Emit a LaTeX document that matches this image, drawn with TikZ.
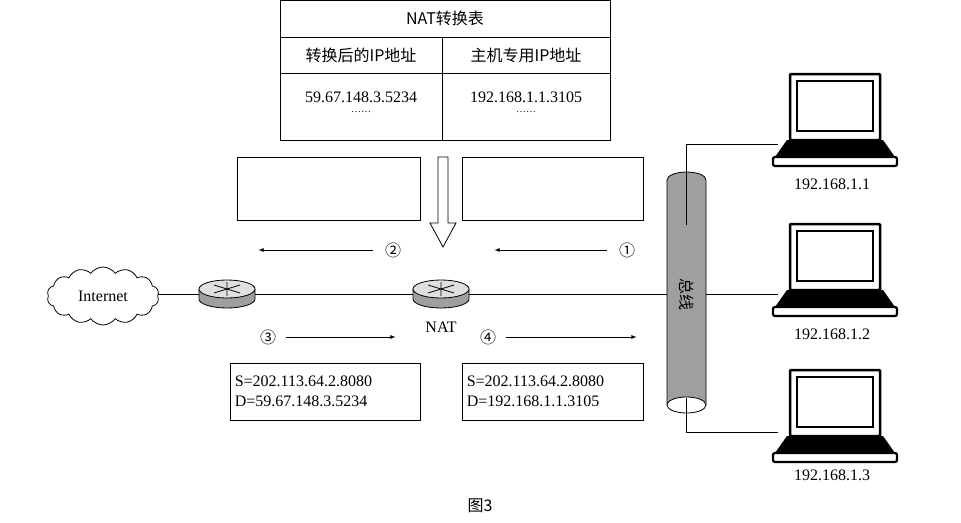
\documentclass[tikz,border=0pt]{standalone}
\usepackage{fontspec}
\setmainfont{Liberation Serif}
\newfontfamily\cjk{Noto Sans CJK SC}
\usetikzlibrary{shapes,arrows,positioning,calc}
\newcommand{\labelsize}{\fontsize{16}{20}\selectfont}
\tikzset{
  plain box/.style = {draw, thick, rectangle},
  flow/.style = {-latex, thick},
  num/.style = {font=\cjk\labelsize},
  addr/.style = {font=\labelsize, align=left, anchor=west, inner sep=5pt},
  lan/.style = {thick},
  laptop/.pic = {
    \draw[line width=2.5pt, fill=white, rounded corners=1pt] (-45,-66) rectangle (45,0);
    \draw[line width=1.5pt] (-38,-59) rectangle (38,-9);
    \fill (-48,0) -- (48,0) -- (60,17) -- (-60,17) -- cycle;
    \draw[line width=2.2pt, fill=white, rounded corners=2pt] (-62,17) rectangle (62,26);
    \draw[white, thick] (-38,21) -- (-12,21) (12,21) -- (38,21);
  }
}
\newcommand{\routerat}[2]{%
  \draw[thick, fill=gray!75] ($(#1)+(-28,0)$) -- ($(#1)+(-28,10)$) arc[start angle=180, end angle=0, x radius=28, y radius=9] -- ($(#1)+(28,0)$);
  \draw[thick, fill=gray!25] (#1) ellipse[x radius=28, y radius=9];
  \draw[thick] (#1) +(-13,-4) -- +(13,4) +(-13,4) -- +(13,-4) +(0,-7) -- +(0,7);
  \node[minimum width=56pt, minimum height=24pt, inner sep=0pt] (#2) at ($(#1)+(0,5)$) {};
}
\begin{document}
\begin{tikzpicture}[x=1pt, y=-1pt]
  \useasboundingbox (0,0) rectangle (961,522);

  % translation table
  \draw[thick] (280,0) rectangle (610,140);
  \draw[thick] (280,37) -- (610,37) (280,73) -- (610,73) (442,37) -- (442,140);
  \node[font=\cjk\labelsize] (title) at (445,18) {NAT转换表};
  \node[font=\cjk\labelsize] (pubhead) at (361,55) {转换后的IP地址};
  \node[font=\cjk\labelsize] (privhead) at (526,55) {主机专用IP地址};
  \node[font=\labelsize] (pubip) at (361,97) {59.67.148.3.5234};
  \node[font=\labelsize] (privip) at (526,97) {192.168.1.1.3105};
  \node (pubdots) at (361,112) {\dots\dots};
  \node (privdots) at (526,112) {\dots\dots};

  % empty boxes
  \node[plain box, minimum width=183pt, minimum height=63pt] (upleft) at (328.5,188.5) {};
  \node[plain box, minimum width=181pt, minimum height=63pt] (upright) at (552.5,188.5) {};

  % hollow arrow
  \draw[thick, fill=white] (438,157) -- (448,157) -- (448,223) -- (456,223) -- (443,247) -- (430,223) -- (438,223) -- cycle;

  % flow arrows
  \node[num] (n2) at (393,250) {②};
  \node[num] (n1) at (627,250) {①};
  \node[num] (n3) at (268,337) {③};
  \node[num] (n4) at (488,337) {④};
  \draw[flow] (n2.west) ++(-8,0) coordinate (a2) -- ++(-115,0) coordinate (b2);
  \draw[flow] (n1.west) ++(-8,0) coordinate (a1) -- ++(-113,0) coordinate (b1);
  \draw[flow] (n3.east) ++(6,0) coordinate (a3) -- ++(110,0) coordinate (b3);
  \draw[flow] (n4.east) ++(6,0) coordinate (a4) -- ++(131,0) coordinate (b4);

  % cloud
  \node[cloud, draw, thick, cloud puffs=14, cloud puff arc=110, aspect=2, minimum width=112pt, minimum height=58pt, inner sep=0pt, font=\labelsize] (inet) at (103,296) {Internet};

  % bus
  \fill[gray!75] (667,180) rectangle (706,405);
  \draw[thick, fill=gray!75] (667,405) -- (667,180) arc[start angle=180, end angle=360, x radius=19.5, y radius=8] -- (706,405);
  \draw[thick, fill=white] (686.5,405) ellipse[x radius=19.5, y radius=8];
  \node[font=\cjk\labelsize, rotate=-90] (bus) at (686.5,294) {总线};
  \coordinate (busl) at (667,294);
  \coordinate (busr) at (706,294);

  % hosts
  \pic at (835,140) {laptop};
  \pic at (835,290) {laptop};
  \pic at (835,436) {laptop};
  \node[font=\labelsize] (h1) at (832,184) {192.168.1.1};
  \node[font=\labelsize] (h2) at (832,334) {192.168.1.2};
  \node[font=\labelsize] (h3) at (832,475) {192.168.1.3};
  \coordinate (pc1) at (778,144);
  \coordinate (pc2) at (778,294);
  \coordinate (pc3) at (778,432);
  \draw[lan] (686.5,225) |- (pc1);
  \draw[lan] (686.5,398) |- (pc3);
  \draw[lan] (busr) -- (pc2);

  % main line and routers
  \draw[lan] (inet.east |- busl) -- (busl);
  \routerat{227,289}{r1}
  \routerat{441,289}{nat}
  \node[font=\labelsize] (natlabel) at (441,327) {NAT};

  % packets
  \node[plain box, minimum width=190pt, minimum height=57pt] (pktleft) at (325,391.5) {};
  \node[plain box, minimum width=181pt, minimum height=57pt] (pktright) at (552.5,391.5) {};
  \node[addr] at (pktleft.west) {S=202.113.64.2.8080\\D=59.67.148.3.5234};
  \node[addr] at (pktright.west) {S=202.113.64.2.8080\\D=192.168.1.1.3105};

  \node[font=\cjk\labelsize] (caption) at (480,506) {图3};
\end{tikzpicture}
\end{document}
